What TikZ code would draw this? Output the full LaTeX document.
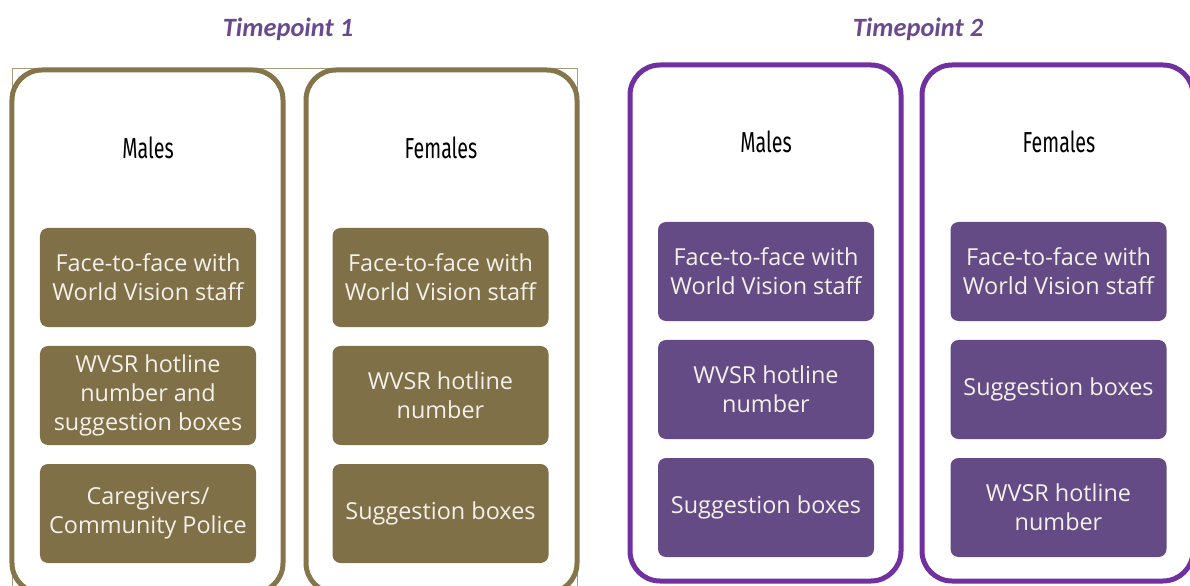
\documentclass[tikz,border=0pt]{standalone}
\usepackage{fontspec}
\setmainfont{Carlito}
\newfontfamily\boxfont{Open Sans}
\newfontfamily\hdrfont{Fira Sans}[FakeStretch=0.68]
\definecolor{tanframe}{HTML}{85754A}
\definecolor{tanfill}{HTML}{807048}
\definecolor{purpframe}{HTML}{7030A0}
\definecolor{purpfill}{HTML}{654B86}
\definecolor{titlepurp}{HTML}{6A4A8C}
\definecolor{boxtext}{HTML}{F3F1EA}
\definecolor{thinline}{HTML}{A89C7C}
\tikzset{
  groupframe/.style={draw, line width=5bp, rounded corners=30bp, minimum width=271bp, inner sep=0pt},
  tframe/.style={groupframe, draw=tanframe, minimum height=523bp},
  pframe/.style={groupframe, draw=purpframe, minimum height=516bp},
  optbox/.style={rounded corners=8bp, minimum width=216bp, minimum height=99bp, inner sep=2bp,
    align=center, text=boxtext, font=\boxfont\fontsize{23.5}{29}\selectfont},
  topt/.style={optbox, fill=tanfill},
  popt/.style={optbox, fill=purpfill},
  grouphead/.style={font=\hdrfont\fontsize{29}{30}\selectfont, text=black},
  tptitle/.style={font=\bfseries\itshape\fontsize{26.5}{28}\selectfont, text=titlepurp},
}
\begin{document}
\begin{tikzpicture}[x=1bp, y=-1bp]
\useasboundingbox (0,0) rectangle (1190,586);
\clip (0,0) rectangle (1190,586);

% titles
\node[tptitle] (t1) at (288,29) {Timepoint 1};
\node[tptitle] (t2) at (918,29) {Timepoint 2};

% thin outline around the first timepoint
\draw[thinline, line width=1bp] (12,69) rectangle (577,640);

% group frames
\node[tframe] (t1m) at (147.5,331.5) {};
\node[tframe] (t1f) at (441.5,331.5) {};
\node[pframe] (t2m) at (765.5,323) {};
\node[pframe] (t2f) at (1057.5,323) {};

% group headings
\node[grouphead] (h1m) at (148,148) {Males};
\node[grouphead] (h1f) at (441,148) {Females};
\node[grouphead] (h2m) at (766,142) {Males};
\node[grouphead] (h2f) at (1059,142) {Females};

% timepoint 1, males
\node[topt] (a1) at (148,277.5) {Face-to-face with\\World Vision staff};
\node[topt] (a2) at (148,395.5) {WVSR hotline\\number and\\suggestion boxes};
\node[topt] (a3) at (148,513.5) {Caregivers/\\Community Police};
% timepoint 1, females
\node[topt] (b1) at (440.5,277.5) {Face-to-face with\\World Vision staff};
\node[topt] (b2) at (440.5,395.5) {WVSR hotline\\number};
\node[topt] (b3) at (440.5,513.5) {Suggestion boxes};
% timepoint 2, males
\node[popt] (c1) at (766,271.5) {Face-to-face with\\World Vision staff};
\node[popt] (c2) at (766,389.5) {WVSR hotline\\number};
\node[popt] (c3) at (766,507.5) {Suggestion boxes};
% timepoint 2, females
\node[popt] (d1) at (1058.5,271.5) {Face-to-face with\\World Vision staff};
\node[popt] (d2) at (1058.5,389.5) {Suggestion boxes};
\node[popt] (d3) at (1058.5,507.5) {WVSR hotline\\number};
\end{tikzpicture}
\end{document}
